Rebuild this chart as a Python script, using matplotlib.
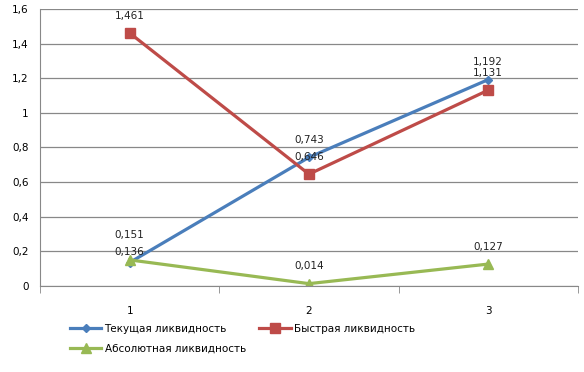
import numpy as np
import matplotlib.pyplot as plt

# data
categories = ['1', '2', '3']
current = [0.136, 0.743, 1.192]
quick = [1.461, 0.646, 1.131]
absolute = [0.151, 0.014, 0.127]
series_names = ['Текущая ликвидность', 'Быстрая ликвидность', 'Абсолютная ликвидность']

colors = ['#4A7EBB', '#BE4B48', '#98B954']
markers = ['D', 's', '^']
msizes = [4, 7, 7]
# label offsets (points) so the crowded labels at x=1 stay readable
offsets = [[4, 9, 9], [9, 9, 9], [14, 9, 9]]

def fmt(v):
    return ('%.3f' % v).replace('.', ',')

fig = plt.figure(figsize=(5.84, 3.72), dpi=100)
ax = fig.add_axes([0.0685, 0.231, 0.921, 0.745])

x = np.arange(1, len(categories) + 1)
handles = []
for vals, name, c, m, ms, offs in zip([current, quick, absolute], series_names, colors, markers, msizes, offsets):
    h, = ax.plot(x, vals, color=c, lw=2.3, marker=m, markersize=ms, label=name)
    handles.append(h)
    for xi, v, o in zip(x, vals, offs):
        ax.annotate(fmt(v), (xi, v), xytext=(0, o), textcoords='offset points',
                    ha='center', va='bottom', fontsize=7.5, color='#222222')

ax.set_xlim(0.5, 3.5)
ax.set_ylim(0, 1.6)
yt = np.arange(0, 1.61, 0.2)
ax.set_yticks(yt)
ax.set_yticklabels(['0' if abs(t) < 1e-9 else ('1' if abs(t - 1) < 1e-9 else ('%.1f' % t).replace('.', ',')) for t in yt])
ax.set_xticks(x)
ax.set_xticklabels(categories)
ax.set_xticks(np.arange(0.5, 3.6, 1), minor=True)
ax.tick_params(axis='x', which='major', length=0, pad=14, labelsize=7.5)
ax.tick_params(axis='x', which='minor', length=5, color='#888888', direction='out')
ax.tick_params(axis='y', length=0, pad=8, labelsize=7.5)
ax.grid(axis='y', color='#888888', lw=0.9)
ax.set_axisbelow(True)
for s in ['top', 'right']:
    ax.spines[s].set_visible(False)
ax.spines['left'].set_color('#888888')
ax.spines['bottom'].set_color('#888888')

# column-major fill: current / absolute in column 1, quick in column 2
order = [0, 2, 1]
fig.legend(handles=[handles[i] for i in order], loc='upper left', bbox_to_anchor=(0.113, 0.14), ncol=2,
           frameon=False, fontsize=7.5, handlelength=3.0, columnspacing=1.3,
           handletextpad=0.3, labelspacing=0.9, borderaxespad=0)

fig.savefig('out.png', dpi=100)
